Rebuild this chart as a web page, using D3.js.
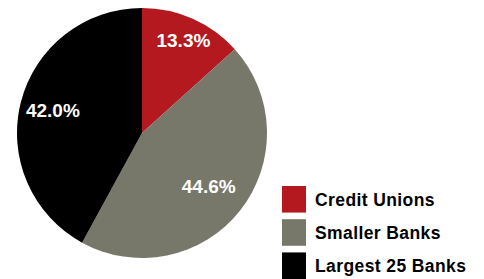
<!DOCTYPE html>
<html>
<head>
<meta charset="utf-8">
<script src="https://cdn.jsdelivr.net/npm/d3@7"></script>
<style>
  body { margin: 0; background: #fff; }
  text { font-family: "Liberation Sans", Arial, sans-serif; font-weight: bold; }
</style>
</head>
<body>
<svg id="chart" width="484" height="279"></svg>
<script>
var categories = ['Credit Unions', 'Smaller Banks', 'Largest 25 Banks'];
var shares = [13.3, 44.6, 42.0];
var colors = ['#b3191f', '#78786a', '#000000'];

var svg = d3.select('#chart');
var cx = 142, cy = 133, radius = 125;
// label distance from centre, per slice
var labelR = [102, 85, 92];

var pie = d3.pie().sort(null).value(function (d) { return d; });
var arcs = pie(shares);

var g = svg.append('g').attr('transform', 'translate(' + cx + ',' + cy + ')');

g.selectAll('path')
  .data(arcs)
  .enter()
  .append('path')
  .attr('d', d3.arc().innerRadius(0).outerRadius(radius))
  .attr('fill', function (d, i) { return colors[i]; });

g.selectAll('text.lbl')
  .data(arcs)
  .enter()
  .append('text')
  .attr('class', 'lbl')
  .attr('transform', function (d, i) {
    var c = d3.arc().innerRadius(labelR[i]).outerRadius(labelR[i]).centroid(d);
    return 'translate(' + c[0] + ',' + c[1] + ')';
  })
  .attr('text-anchor', 'middle')
  .attr('dy', '0.36em')
  .attr('fill', '#fff')
  .style('font-size', '19px')
  .text(function (d) { return d.value.toFixed(1) + '%'; });

// legend
var ly = d3.scaleBand().domain(categories).range([186, 279]).paddingInner(0.2);

var leg = svg.selectAll('g.leg')
  .data(categories)
  .enter()
  .append('g')
  .attr('class', 'leg')
  .attr('transform', function (d) { return 'translate(282,' + ly(d) + ')'; });

leg.append('rect')
  .attr('width', 24)
  .attr('height', ly.bandwidth())
  .attr('fill', function (d, i) { return colors[i]; });

leg.append('text')
  .attr('x', 33)
  .attr('y', ly.bandwidth() / 2)
  .attr('dy', '0.36em')
  .attr('fill', '#000')
  .style('font-size', '17.5px')
  .style('letter-spacing', '0.4px')
  .text(function (d) { return d; });
</script>
</body>
</html>
